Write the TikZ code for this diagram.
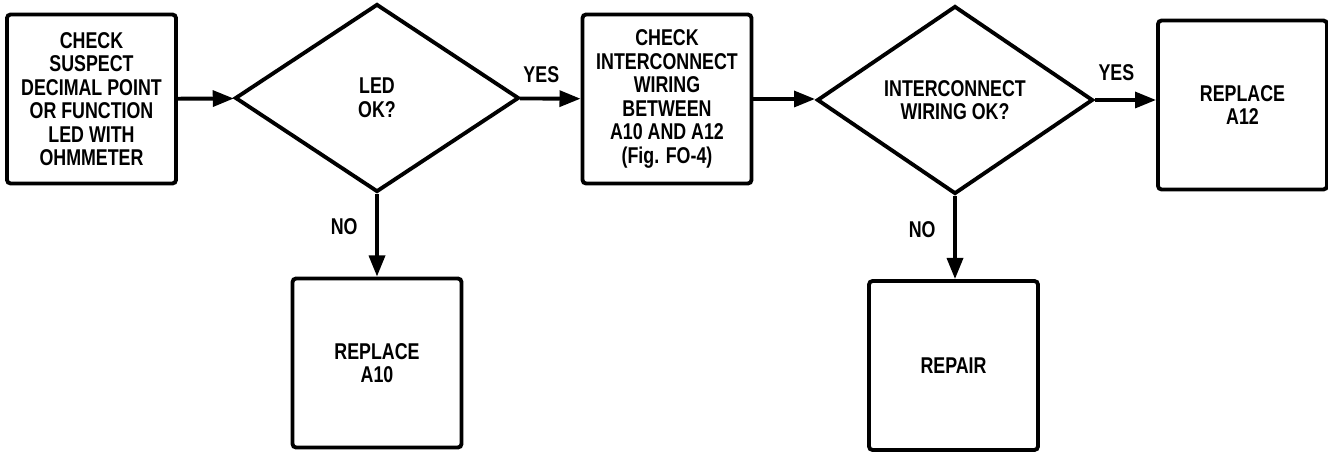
\documentclass[tikz,border=0pt]{standalone}
\usepackage{fontspec}
\setmainfont{Liberation Sans}[FakeStretch=0.78]
\usetikzlibrary{arrows.meta,shapes.geometric}

\begin{document}
\begin{tikzpicture}[
  x=0.02cm,y=-0.02cm,
  font=\bfseries\fontsize{13}{13.4}\selectfont,
  stepbox/.style={draw,line width=2.2pt,rounded corners=2pt,minimum width=3.38cm,minimum height=3.38cm,align=center,inner sep=2pt},
  decision/.style={draw,diamond,shape aspect=1.5,line width=2.2pt,inner sep=0pt,align=center,minimum height=3.76cm},
  edge/.style={-{Triangle[length=12pt,width=9pt]},line width=2.2pt},
  answer/.style={inner sep=2pt}
]
\useasboundingbox (0,0) rectangle (1328,452);

\node[stepbox] (ohmcheck) at (91.5,99) {CHECK\\SUSPECT\\DECIMAL POINT\\OR FUNCTION\\LED WITH\\OHMMETER};
\node[decision,minimum width=5.68cm] (ledok) at (377,98) {LED\\OK?};
\node[stepbox] (wirecheck) at (667,99) {CHECK\\INTERCONNECT\\WIRING\\BETWEEN\\A10 AND A12\\(Fig. FO-4)};
\node[decision,minimum width=5.52cm] (wireok) at (955,100) {INTERCONNECT\\WIRING OK?};
\node[stepbox] (repa12) at (1242.5,105) {REPLACE\\A12};
\node[stepbox] (repa10) at (377,363) {REPLACE\\A10};
\node[stepbox] (repair) at (953.5,365.5) {REPAIR};

\draw[edge] (ohmcheck) -- (ledok);
\draw[edge] (ledok) -- node[answer,above,pos=.35,yshift=6pt]{YES} (wirecheck);
\draw[edge] (wirecheck.east) -- (wirecheck.east -| wireok.west);
\draw[edge] (wireok) -- node[answer,above,pos=.35,yshift=8pt]{YES} (repa12.west |- wireok);
\draw[edge] (ledok) -- node[answer,left,pos=.4,xshift=-8pt]{NO} (repa10);
\draw[edge] (wireok.south) -- node[answer,left,pos=.4,xshift=-8pt]{NO} (wireok.south |- repair.north);
\end{tikzpicture}
\end{document}
